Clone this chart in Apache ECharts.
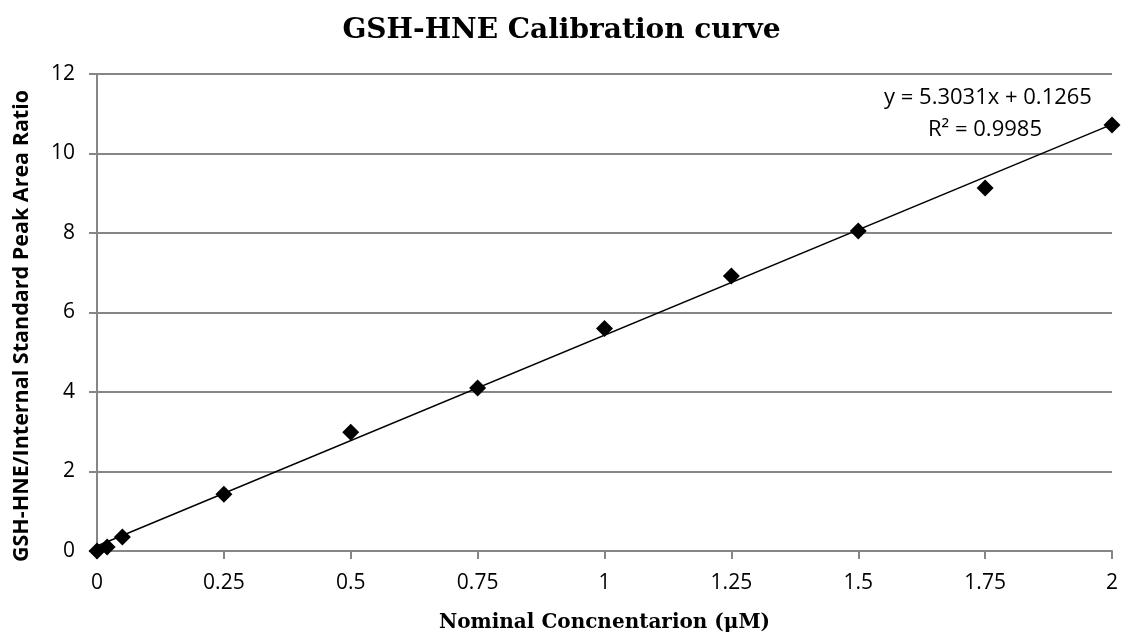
<!DOCTYPE html>
<html>
<head>
<meta charset="utf-8">
<script src="https://cdn.jsdelivr.net/npm/echarts@6/dist/echarts.min.js"></script>
<style>
  html, body { margin: 0; padding: 0; background: #fff; }
  #chart { width: 1123px; height: 641px; }
</style>
</head>
<body>
<div id="chart"></div>
<script>
// measured points
const concX = [0, 0.02, 0.05, 0.25, 0.5, 0.75, 1, 1.25, 1.5, 1.75, 2];
const ratioY = [0.0, 0.1, 0.35, 1.43, 2.99, 4.1, 5.6, 6.92, 8.05, 9.13, 10.72];
// linear trendline ends (y = 5.3031x + 0.1265)
const trendX = [0, 2];
const trendY = [0.1265, 10.7327];
const xTicks = ['0', '0.25', '0.5', '0.75', '1', '1.25', '1.5', '1.75', '2'];

const chart = echarts.init(document.getElementById('chart'));

const option = {
  animation: false,
  title: {
    text: 'GSH-HNE Calibration curve',
    left: 'center',
    top: 12,
    textStyle: { fontFamily: 'DejaVu Serif', fontWeight: 'bold', fontSize: 28, color: '#000' }
  },
  grid: { left: 97, right: 11, top: 74, bottom: 90, containLabel: false, outerBoundsMode: 'none' },
  xAxis: {
    type: 'value',
    min: 0, max: 2, interval: 0.25,
    name: 'Nominal Concnentarion (μM)',
    nameLocation: 'middle',
    nameGap: 62,
    nameTextStyle: { fontFamily: 'DejaVu Serif', fontWeight: 'bold', fontSize: 20, color: '#000' },
    axisLine: { lineStyle: { color: '#868686', width: 2 } },
    axisTick: { show: true, length: 8, lineStyle: { color: '#868686', width: 2 } },
    axisLabel: {
      fontFamily: 'Open Sans', fontSize: 21, color: '#000', margin: 22,
      formatter: v => xTicks[Math.round(v / 0.25)]
    },
    splitLine: { show: false }
  },
  yAxis: {
    type: 'value',
    min: 0, max: 12, interval: 2,
    axisLine: { show: true, lineStyle: { color: '#868686', width: 2 } },
    axisTick: { show: true, length: 8, lineStyle: { color: '#868686', width: 2 } },
    axisLabel: { fontFamily: 'Open Sans', fontSize: 21, color: '#000', margin: 22 },
    splitLine: { show: true, lineStyle: { color: '#868686', width: 2 } }
  },
  graphic: [
    {
      // y axis title, sits a bit lower than the plot centre
      type: 'text', x: 22, y: 326, rotation: Math.PI / 2,
      style: {
        text: 'GSH-HNE/Internal Standard Peak Area Ratio',
        fontFamily: 'Open Sans', fontWeight: 'bold', fontSize: 21.5, fill: '#000',
        align: 'center', verticalAlign: 'middle'
      }
    },
    {
      type: 'text', x: 988, y: 98,
      style: { text: 'y = 5.3031x + 0.1265', fontFamily: 'Open Sans', fontSize: 22, fill: '#000', align: 'center', verticalAlign: 'middle' }
    },
    {
      type: 'text', x: 985, y: 130,
      style: { text: 'R² = 0.9985', fontFamily: 'Open Sans', fontSize: 22, fill: '#000', align: 'center', verticalAlign: 'middle' }
    }
  ],
  series: [
    {
      type: 'line',
      data: trendX.map((x, i) => [x, trendY[i]]),
      symbol: 'none',
      lineStyle: { color: '#000', width: 1.5 },
      z: 2
    },
    {
      type: 'scatter',
      data: concX.map((x, i) => [x, ratioY[i]]),
      symbol: 'diamond',
      symbolSize: [17, 17],
      itemStyle: { color: '#000', opacity: 1 },
      z: 3
    }
  ]
};

chart.setOption(option, true);
</script>
</body>
</html>
